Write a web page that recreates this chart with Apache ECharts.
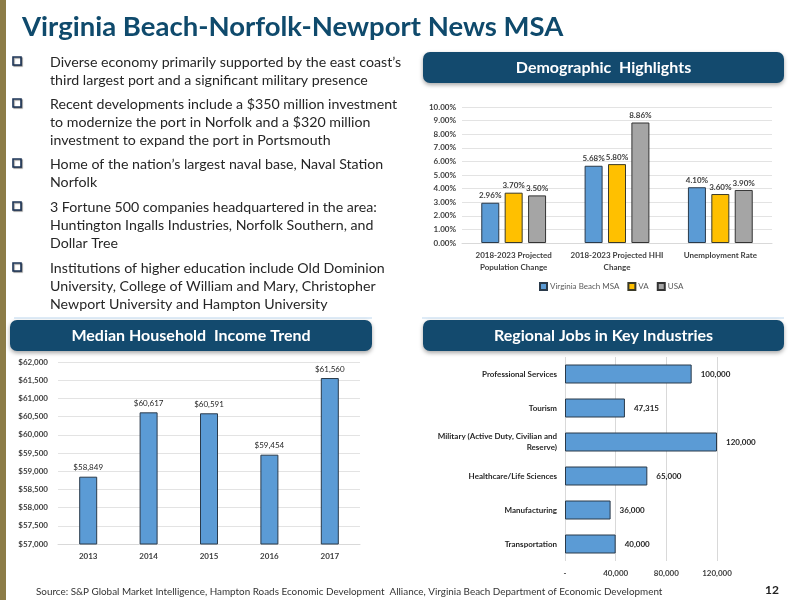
<!DOCTYPE html>
<html>
<head>
<meta charset="utf-8">
<script src="https://cdn.jsdelivr.net/npm/echarts@6/dist/echarts.min.js"></script>
<style>
  html, body { margin: 0; padding: 0; background: #fff; }
  #chart { width: 789px; height: 600px; }
</style>
</head>
<body>
<div id="chart"></div>
<script>
// ---------- DATA ----------
const titleText = 'Virginia Beach-Norfolk-Newport News MSA';
const bullets = [
  ['Diverse economy primarily supported by the east coast\u2019s', 'third largest port and a significant military presence'],
  ['Recent developments include a $350 million investment', 'to modernize the port in Norfolk and a $320 million', 'investment to expand the port in Portsmouth'],
  ['Home of the nation\u2019s largest naval base, Naval Station', 'Norfolk'],
  ['3 Fortune 500 companies headquartered in the area:', 'Huntington Ingalls Industries, Norfolk Southern, and', 'Dollar Tree'],
  ['Institutions of higher education include Old Dominion', 'University, College of William and Mary, Christopher', 'Newport University and Hampton University']
];
const headers = ['Demographic  Highlights', 'Median Household  Income Trend', 'Regional Jobs in Key Industries'];
const sourceText = 'Source: S&P Global Market Intelligence, Hampton Roads Economic Development  Alliance, Virginia Beach Department of Economic Development';
const pageNumber = '12';

const demoCategories = ['2018-2023 Projected\nPopulation Change', '2018-2023 Projected HHI\nChange', 'Unemployment Rate'];
const demoSeriesNames = ['Virginia Beach MSA', 'VA', 'USA'];
const demoVbMsa = [2.96, 5.68, 4.10];
const demoVa = [3.70, 5.80, 3.60];
const demoUsa = [3.50, 8.86, 3.90];

const incomeYears = ['2013', '2014', '2015', '2016', '2017'];
const incomeValues = [58849, 60617, 60591, 59454, 61560];

const jobCategories = ['Transportation', 'Manufacturing', 'Healthcare/Life Sciences', 'Military (Active Duty, Civilian and\nReserve)', 'Tourism', 'Professional Services'];
const jobValues = [40000, 36000, 65000, 120000, 47315, 100000];

// ---------- STYLE ----------
const FONT = 'Lato, "Open Sans", sans-serif';
const NAVY = '#134a6e';
const BLUE = '#5b9bd5';
const GOLD = '#ffc000';
const GRAY = '#a5a5a5';
const LABEL = '#404040';
const fmtNum = v => v.toLocaleString('en-US');

const graphics = [];
// left olive bar
graphics.push({ type: 'rect', shape: { x: 0, y: 0, width: 6, height: 600 }, style: { fill: '#8c7c47' } });
// title
graphics.push({ type: 'text', x: 22, y: 27, style: { text: titleText, font: 'bold 27.5px ' + FONT, fill: '#0f4a6c', textVerticalAlign: 'middle', shadowColor: 'rgba(0,0,0,0.35)', shadowBlur: 2, shadowOffsetX: 1, shadowOffsetY: 1 } });

// bullets
const bulletStarts = [62, 104, 164, 207, 268];
bullets.forEach((lines, i) => {
  const y0 = bulletStarts[i];
  graphics.push({ type: 'rect', shape: { x: 13, y: y0 - 5, width: 8, height: 8 }, style: { fill: '#fff', stroke: '#1d3557', lineWidth: 1.6, shadowColor: 'rgba(0,0,0,0.4)', shadowOffsetX: 1, shadowOffsetY: 1, shadowBlur: 1 } });
  lines.forEach((ln, j) => {
    graphics.push({ type: 'text', x: 50, y: y0 + j * 18, style: { text: ln, font: '14.2px ' + FONT, fill: '#262626', textVerticalAlign: 'middle' } });
  });
});

// separator lines
graphics.push({ type: 'line', shape: { x1: 14, y1: 318, x2: 372, y2: 318 }, style: { stroke: '#bdd7ee', lineWidth: 1 } });
graphics.push({ type: 'line', shape: { x1: 422, y1: 318, x2: 784, y2: 318 }, style: { stroke: '#bdd7ee', lineWidth: 1 } });

// header boxes
const boxes = [
  { x: 423, y: 52, w: 361, h: 31 },
  { x: 10, y: 320, w: 362, h: 31 },
  { x: 423, y: 320, w: 361, h: 31 }
];
boxes.forEach((b, i) => {
  graphics.push({ type: 'rect', shape: { x: b.x, y: b.y, width: b.w, height: b.h, r: 7 }, style: { fill: NAVY, shadowColor: 'rgba(0,0,0,0.35)', shadowBlur: 4, shadowOffsetY: 2 } });
  graphics.push({ type: 'text', x: b.x + b.w / 2, y: b.y + b.h / 2, style: { text: headers[i], font: 'bold 16px ' + FONT, fill: '#ffffff', align: 'center', textVerticalAlign: 'middle' } });
});

// footer
graphics.push({ type: 'text', x: 36, y: 592, style: { text: sourceText, font: '9.9px ' + FONT, fill: '#333', textVerticalAlign: 'middle' } });
graphics.push({ type: 'text', x: 772, y: 590, style: { text: pageNumber, font: 'bold 12px ' + FONT, fill: '#222', align: 'center', textVerticalAlign: 'middle' } });

const barLabel = (fmt, pos) => ({ show: true, position: pos || 'top', distance: 3, fontFamily: FONT, fontSize: 8, fontWeight: 'bold', color: LABEL, formatter: fmt });
const axisLbl = extra => Object.assign({ fontFamily: FONT, fontSize: 8, fontWeight: 'bold', color: LABEL }, extra || {});

const option = {
  animation: false,
  backgroundColor: '#fff',
  textStyle: { fontFamily: FONT },
  graphic: { elements: graphics },
  legend: {
    data: demoSeriesNames,
    left: 534, top: 277,
    itemWidth: 7, itemHeight: 7, itemGap: 8, icon: 'rect',
    textStyle: { fontFamily: FONT, fontSize: 8, color: '#595959', padding: [0, 0, 0, -2] }
  },
  grid: [
    { left: 462, right: 17, top: 107, bottom: 357 },
    { left: 58, right: 429, top: 362, bottom: 56 },
    { left: 565, right: 72, top: 357, bottom: 39 }
  ],
  xAxis: [
    { gridIndex: 0, type: 'category', data: demoCategories,
      axisLine: { lineStyle: { color: '#d9d9d9' } }, axisTick: { show: false },
      axisLabel: axisLbl({ margin: 6, lineHeight: 12, interval: 0 }) },
    { gridIndex: 1, type: 'category', data: incomeYears,
      axisLine: { lineStyle: { color: '#d9d9d9' } }, axisTick: { show: false },
      axisLabel: axisLbl({ margin: 8, interval: 0 }) },
    { gridIndex: 2, type: 'value', min: 0, max: 120000, interval: 40000,
      axisLine: { show: false }, axisTick: { show: false },
      splitLine: { lineStyle: { color: '#d9d9d9' } },
      axisLabel: axisLbl({ margin: 8, formatter: v => v === 0 ? '-' : fmtNum(v) }) }
  ],
  yAxis: [
    { gridIndex: 0, type: 'value', min: 0, max: 10, interval: 1,
      axisLine: { show: false }, axisTick: { show: false },
      splitLine: { lineStyle: { color: '#e3e3e3' } },
      axisLabel: axisLbl({ margin: 6, formatter: v => v.toFixed(2) + '%' }) },
    { gridIndex: 1, type: 'value', min: 57000, max: 62000, interval: 500,
      axisLine: { show: false }, axisTick: { show: false },
      splitLine: { lineStyle: { color: '#e3e3e3' } },
      axisLabel: axisLbl({ margin: 10, formatter: v => '$' + fmtNum(v) }) },
    { gridIndex: 2, type: 'category', data: jobCategories,
      axisLine: { show: false }, axisTick: { show: false },
      axisLabel: axisLbl({ margin: 8, lineHeight: 11, color: '#262626', interval: 0 }) }
  ],
  series: [
    { name: demoSeriesNames[0], type: 'bar', xAxisIndex: 0, yAxisIndex: 0, data: demoVbMsa, barWidth: 18, barGap: '30%',
      itemStyle: { color: BLUE, borderColor: '#2a3a4a', borderWidth: 1 }, label: barLabel(p => p.value.toFixed(2) + '%') },
    { name: demoSeriesNames[1], type: 'bar', xAxisIndex: 0, yAxisIndex: 0, data: demoVa, barWidth: 18, barGap: '30%',
      itemStyle: { color: GOLD, borderColor: '#3a3a2a', borderWidth: 1 }, label: barLabel(p => p.value.toFixed(2) + '%') },
    { name: demoSeriesNames[2], type: 'bar', xAxisIndex: 0, yAxisIndex: 0, data: demoUsa, barWidth: 18, barGap: '30%',
      itemStyle: { color: GRAY, borderColor: '#333', borderWidth: 1 }, label: barLabel(p => p.value.toFixed(2) + '%') },
    { name: 'Income', type: 'bar', xAxisIndex: 1, yAxisIndex: 1, data: incomeValues, barWidth: 18,
      itemStyle: { color: BLUE, borderColor: '#2a3a4a', borderWidth: 1 },
      label: Object.assign(barLabel(p => '$' + fmtNum(p.value)), { fontWeight: 'normal', color: '#262626', distance: 5 }) },
    { name: 'Jobs', type: 'bar', xAxisIndex: 2, yAxisIndex: 2, data: jobValues, barWidth: 19,
      itemStyle: { color: BLUE, borderColor: '#2a3a4a', borderWidth: 1 },
      label: Object.assign(barLabel(p => fmtNum(p.value), 'right'), { distance: 9, color: '#262626' }) }
  ]
};

const chart = echarts.init(document.getElementById('chart'), null, { renderer: 'canvas' });
chart.setOption(option);
</script>
</body>
</html>
